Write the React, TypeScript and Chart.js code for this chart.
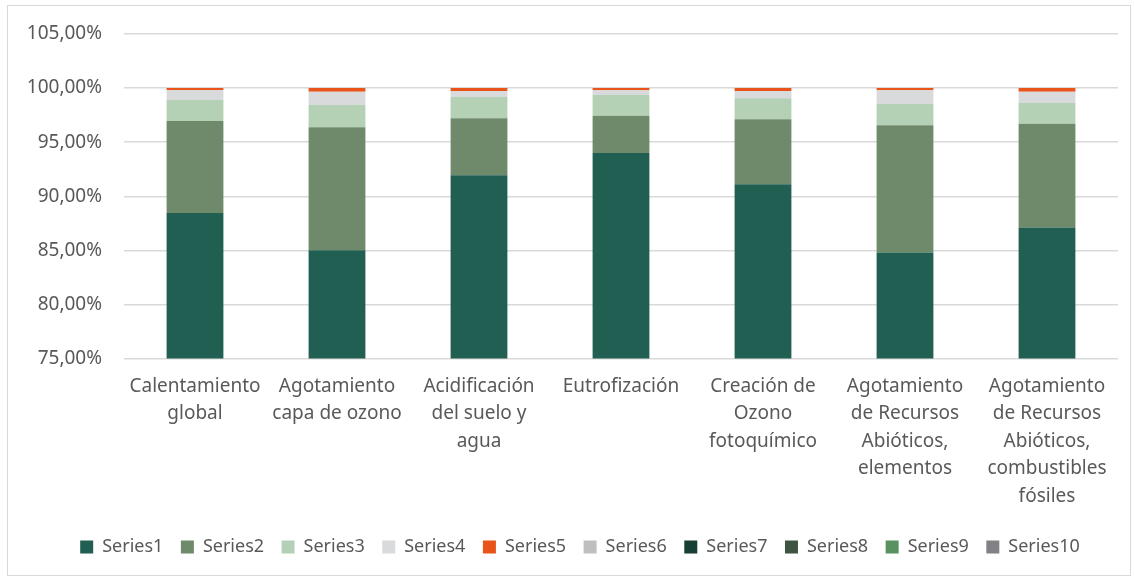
import React, { useEffect, useRef } from "react";
import { Chart, registerables } from "chart.js";

Chart.register(...registerables);

const categories: string[][] = [
  ["Calentamiento", "global"],
  ["Agotamiento", "capa de ozono"],
  ["Acidificación", "del suelo y", "agua"],
  ["Eutrofización"],
  ["Creación de", "Ozono", "fotoquímico"],
  ["Agotamiento", "de Recursos", "Abióticos,", "elementos"],
  ["Agotamiento", "de Recursos", "Abióticos,", "combustibles", "fósiles"],
];

const series1 = [88.45, 85.0, 91.95, 94.0, 91.1, 84.8, 87.1];
const series2 = [8.5, 11.39, 5.27, 3.44, 6.03, 11.77, 9.6];
const series3 = [1.95, 2.04, 1.95, 1.91, 1.94, 1.95, 1.91];
const series4 = [0.9, 1.23, 0.55, 0.46, 0.65, 1.29, 1.05];
const series5 = [0.2, 0.34, 0.28, 0.19, 0.28, 0.19, 0.34];
const series6 = [0, 0, 0, 0, 0, 0, 0];
const series7 = [0, 0, 0, 0, 0, 0, 0];
const series8 = [0, 0, 0, 0, 0, 0, 0];
const series9 = [0, 0, 0, 0, 0, 0, 0];
const series10 = [0, 0, 0, 0, 0, 0, 0];

const seriesNames = ["Series1", "Series2", "Series3", "Series4", "Series5", "Series6", "Series7", "Series8", "Series9", "Series10"];
const seriesData = [series1, series2, series3, series4, series5, series6, series7, series8, series9, series10];
const seriesColors = ["#215F53", "#6F8A6B", "#B4D1B6", "#D9DADB", "#E9541A", "#BFBFBF", "#173F35", "#3F5440", "#5A9160", "#808285"];

const yMin = 75;
const yMax = 105;
const yStep = 5;

const shiftLegend = {
  id: "shiftLegend",
  afterLayout(chart: any) {
    if (chart.legend) {
      chart.legend.left += 17;
      chart.legend.right += 17;
    }
  },
};

export default function App() {
  const ref = useRef<HTMLCanvasElement | null>(null);
  useEffect(() => {
    if (!ref.current) return;
    const font = "'Noto Sans', 'Liberation Sans', sans-serif";
    const chart = new Chart(ref.current, {
      type: "bar",
      data: {
        labels: categories,
        datasets: seriesNames.map((name, i) => ({
          label: name,
          data: seriesData[i],
          backgroundColor: seriesColors[i],
          borderWidth: 0,
          barPercentage: 0.4,
          categoryPercentage: 1,
        })),
      },
      plugins: [shiftLegend],
      options: {
        animation: false,
        responsive: false,
        maintainAspectRatio: false,
        layout: { padding: { left: 0, right: 12, top: 28, bottom: 9 } },
        plugins: {
          legend: {
            position: "bottom",
            labels: {
              boxWidth: 13,
              boxHeight: 13,
              padding: 17.5,
              color: "#595959",
              font: { family: font, size: 18 },
            },
          },
          tooltip: { enabled: false },
        },
        scales: {
          x: {
            stacked: true,
            grid: { display: false },
            border: { display: false },
            afterFit: (scale: any) => {
              scale.height = 162;
              scale.paddingTop = 0;
              scale.paddingBottom = 0;
            },
            ticks: {
              color: "#595959",
              font: { family: font, size: 19, lineHeight: 1.447 },
              maxRotation: 0,
              autoSkip: false,
              padding: 6,
            },
          },
          y: {
            stacked: true,
            min: yMin,
            max: yMax,
            afterFit: (scale: any) => {
              scale.width = 116;
              scale.paddingTop = 0;
              scale.paddingBottom = 0;
            },
            grid: { color: "#D9D9D9", lineWidth: 1.5, drawTicks: false },
            border: { display: false },
            ticks: {
              stepSize: yStep,
              color: "#595959",
              padding: 22,
              font: { family: font, size: 19 },
              callback: (v: any) => Number(v).toFixed(2).replace(".", ",") + "%",
            },
          },
        },
      },
    });
    return () => chart.destroy();
  }, []);
  return (
    <div
      style={{
        position: "absolute",
        left: 7,
        top: 5,
        width: 1122,
        height: 569,
        border: "1px solid #D9D9D9",
        background: "#fff",
      }}
    >
      <canvas ref={ref} width={1122} height={569} style={{ display: "block" }} />
    </div>
  );
}
